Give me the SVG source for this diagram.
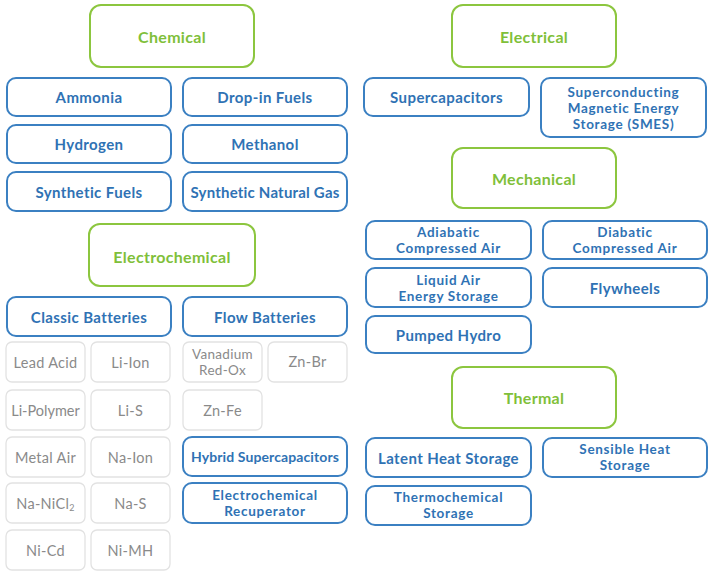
<svg xmlns="http://www.w3.org/2000/svg" width="708" height="573" viewBox="0 0 708 573">
<style>
.cat rect{fill:#fff;stroke:#8cc63f;stroke-width:2}
.cat text{fill:#7fbf3a;font-family:Lato,"Open Sans",sans-serif;font-weight:700;font-size:16px;letter-spacing:0.3px;text-anchor:middle;dominant-baseline:central}
.it rect{fill:#fff;stroke:#3b80c2;stroke-width:2}
.it text{fill:#2f72b4;font-family:Lato,"Open Sans",sans-serif;font-weight:700;font-size:15px;letter-spacing:0.4px;text-anchor:middle;dominant-baseline:central}
.it text.m{font-size:13.5px;letter-spacing:0.7px}
.gr rect{fill:#fff;stroke:#e2e2e2;stroke-width:1.3}
.gr text{fill:#8a8a8a;font-family:Lato,"Open Sans",sans-serif;font-weight:400;font-size:14.5px;letter-spacing:0.3px;text-anchor:middle;dominant-baseline:central}
.gr text.m{font-size:13.5px}
</style>
<rect width="708" height="573" fill="#fff"/>
<g id="connectors"/>
<!-- Chemical -->
<g id="chemical" class="cat"><rect x="90" y="5" width="164" height="62" rx="11"/><text x="172" y="36">Chemical</text></g>
<g id="ammonia" class="it"><rect x="7" y="78" width="164" height="38" rx="9"/><text x="89" y="97">Ammonia</text></g>
<g id="dropin" class="it"><rect x="183" y="78" width="164" height="38" rx="9"/><text x="265" y="97">Drop-in Fuels</text></g>
<g id="hydrogen" class="it"><rect x="7" y="125" width="164" height="38" rx="9"/><text x="89" y="144">Hydrogen</text></g>
<g id="methanol" class="it"><rect x="183" y="125" width="164" height="38" rx="9"/><text x="265" y="144">Methanol</text></g>
<g id="synfuels" class="it"><rect x="7" y="172" width="164" height="39" rx="9"/><text x="89" y="191.5">Synthetic Fuels</text></g>
<g id="sng" class="it"><rect x="183" y="172" width="164" height="39" rx="9"/><text x="265" y="191.5" style="letter-spacing:0.2px">Synthetic Natural Gas</text></g>
<!-- Electrochemical -->
<g id="electrochemical" class="cat"><rect x="89" y="224" width="166" height="62" rx="11"/><text x="172" y="256">Electrochemical</text></g>
<g id="classic" class="it"><rect x="7" y="297" width="164" height="39" rx="9"/><text x="89" y="316.5">Classic Batteries</text></g>
<g id="flow" class="it"><rect x="183" y="297" width="164" height="39" rx="9"/><text x="265" y="316.5">Flow Batteries</text></g>
<g id="leadacid" class="gr"><rect x="6" y="342" width="79" height="40" rx="6"/><text x="45.5" y="362">Lead Acid</text></g>
<g id="liion" class="gr"><rect x="91" y="342" width="79" height="40" rx="6"/><text x="130.5" y="362">Li-Ion</text></g>
<g id="vanadium" class="gr"><rect x="183" y="342" width="79" height="40" rx="6"/><text class="m" x="222.5" y="354">Vanadium</text><text class="m" x="222.5" y="370">Red-Ox</text></g>
<g id="znbr" class="gr"><rect x="268" y="342" width="79" height="40" rx="6"/><text x="307.5" y="361">Zn-Br</text></g>
<g id="lipolymer" class="gr"><rect x="6" y="390" width="79" height="40" rx="6"/><text x="45.5" y="410" style="letter-spacing:0">Li-Polymer</text></g>
<g id="lis" class="gr"><rect x="91" y="390" width="79" height="40" rx="6"/><text x="130.5" y="410">Li-S</text></g>
<g id="znfe" class="gr"><rect x="183" y="390" width="79" height="40" rx="6"/><text x="222.5" y="410">Zn-Fe</text></g>
<g id="metalair" class="gr"><rect x="6" y="437" width="79" height="40" rx="6"/><text x="45.5" y="457">Metal Air</text></g>
<g id="naion" class="gr"><rect x="91" y="437" width="79" height="40" rx="6"/><text x="130.5" y="457">Na-Ion</text></g>
<g id="hybrid" class="it"><rect x="183" y="437" width="164" height="39" rx="9"/><text x="265" y="456" style="font-size:14px;letter-spacing:0.1px">Hybrid Supercapacitors</text></g>
<g id="nanicl2" class="gr"><rect x="6" y="483" width="79" height="40" rx="6"/><text x="45.5" y="503">Na-NiCl<tspan font-size="9" dy="4">2</tspan></text></g>
<g id="nas" class="gr"><rect x="91" y="483" width="79" height="40" rx="6"/><text x="130.5" y="503">Na-S</text></g>
<g id="recuperator" class="it"><rect x="183" y="483" width="164" height="40" rx="9"/><text class="m" x="265" y="495">Electrochemical</text><text class="m" x="265" y="511">Recuperator</text></g>
<g id="nicd" class="gr"><rect x="6" y="530" width="79" height="40" rx="6"/><text x="45.5" y="550">Ni-Cd</text></g>
<g id="nimh" class="gr"><rect x="91" y="530" width="79" height="40" rx="6"/><text x="130.5" y="550">Ni-MH</text></g>
<!-- Electrical -->
<g id="electrical" class="cat"><rect x="452" y="5" width="164" height="62" rx="11"/><text x="534" y="36">Electrical</text></g>
<g id="supercap" class="it"><rect x="364" y="78" width="165" height="38" rx="9"/><text x="446.5" y="97">Supercapacitors</text></g>
<g id="smes" class="it"><rect x="541" y="78" width="165" height="59" rx="9"/><text class="m" x="623.5" y="91.5">Superconducting</text><text class="m" x="623.5" y="107.5">Magnetic Energy</text><text class="m" x="623.5" y="123.5">Storage (SMES)</text></g>
<!-- Mechanical -->
<g id="mechanical" class="cat"><rect x="452" y="148" width="164" height="60" rx="11"/><text x="534" y="178">Mechanical</text></g>
<g id="adiabatic" class="it"><rect x="366" y="221" width="165" height="38" rx="9"/><text class="m" x="448.5" y="232">Adiabatic</text><text class="m" x="448.5" y="248">Compressed Air</text></g>
<g id="diabatic" class="it"><rect x="543" y="221" width="164" height="38" rx="9"/><text class="m" x="625" y="232">Diabatic</text><text class="m" x="625" y="248">Compressed Air</text></g>
<g id="liquidair" class="it"><rect x="366" y="268" width="165" height="39" rx="9"/><text class="m" x="448.5" y="280">Liquid Air</text><text class="m" x="448.5" y="296">Energy Storage</text></g>
<g id="flywheels" class="it"><rect x="543" y="268" width="164" height="39" rx="9"/><text x="625" y="287.5">Flywheels</text></g>
<g id="pumped" class="it"><rect x="366" y="316" width="165" height="37" rx="9"/><text x="448.5" y="335">Pumped Hydro</text></g>
<!-- Thermal -->
<g id="thermal" class="cat"><rect x="452" y="367" width="164" height="61" rx="11"/><text x="534" y="397.5">Thermal</text></g>
<g id="latent" class="it"><rect x="366" y="438" width="165" height="39" rx="9"/><text x="448.5" y="458">Latent Heat Storage</text></g>
<g id="sensible" class="it"><rect x="543" y="438" width="164" height="39" rx="9"/><text class="m" x="625" y="449">Sensible Heat</text><text class="m" x="625" y="465">Storage</text></g>
<g id="thermochemical" class="it"><rect x="366" y="486" width="165" height="39" rx="9"/><text class="m" x="448.5" y="497">Thermochemical</text><text class="m" x="448.5" y="513">Storage</text></g>
</svg>
